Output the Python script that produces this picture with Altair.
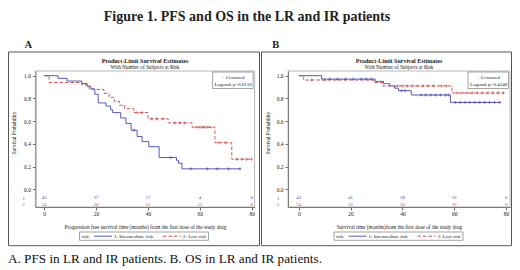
import altair as alt
import pandas as pd

FONT = "Liberation Serif"
BLUE = "#4646b4"
RED = "#c84646"
AXC = "#444444"

# ---------------- data ----------------
risk_times = [0, 20, 40, 60, 80]

# Panel A : PFS
a_ir_t = [0, 5.3, 8.8, 14.5, 16.5, 18, 19.5, 20.8, 23.8, 25.6, 26.4, 29.5, 31.5, 33.5, 35.8, 37.7, 40.3, 44.3, 51, 51.8, 53.1, 75.5]
a_ir_s = [1.0, 0.977, 0.953, 0.93, 0.907, 0.884, 0.837, 0.76, 0.733, 0.70, 0.675, 0.628, 0.58, 0.52, 0.465, 0.42, 0.375, 0.28, 0.255, 0.23, 0.18, 0.18]
a_ir_cens_t = [34.6, 48.8, 56.6, 62.9, 66.7, 71.0, 75.5]
a_ir_cens_s = [0.52, 0.28, 0.18, 0.18, 0.18, 0.18, 0.18]
a_lr_t = [0, 1.9, 14.5, 17.3, 23, 25, 27, 29, 31, 34.5, 40, 47.8, 57, 65.8, 72.3, 80]
a_lr_s = [1.0, 0.94, 0.92, 0.88, 0.845, 0.81, 0.775, 0.74, 0.71, 0.675, 0.62, 0.585, 0.547, 0.41, 0.265, 0.265]
a_lr_cens_t = [35.8, 37.7, 41.5, 43.4, 45.9, 50.3, 52.2, 54.0, 58.5, 60, 61, 62, 63, 64.2, 67.3, 69.8, 74.2, 76.1, 78, 79.9]
a_lr_cens_s = [0.675, 0.675, 0.62, 0.62, 0.62, 0.585, 0.585, 0.585, 0.547, 0.547, 0.547, 0.547, 0.547, 0.547, 0.41, 0.41, 0.265, 0.265, 0.265, 0.265]
a_risk_ir = [43, 37, 17, 4, 0]
a_risk_lr = [34, 30, 21, 13, 0]

# Panel B : OS
b_ir_t = [0, 8.8, 29.5, 32.7, 35, 37, 38.5, 43.4, 58.5, 78]
b_ir_s = [1.0, 0.97, 0.95, 0.93, 0.91, 0.89, 0.868, 0.83, 0.765, 0.765]
b_ir_cens_t = [12, 15, 18, 21, 24, 26, 28, 39.6, 41, 47.2, 49, 51, 52.8, 54.7, 56.6, 57.7, 60.4, 62.3, 64.2, 66, 67.9, 69.8, 71.7, 73.6, 75.5, 77.4]
b_ir_cens_s = [0.97] * 7 + [0.868] * 2 + [0.83] * 7 + [0.765] * 10
b_lr_t = [0, 1.9, 28.9, 32.5, 59.1, 79.2]
b_lr_s = [1.0, 0.962, 0.94, 0.91, 0.848, 0.848]
b_lr_cens_t = [5, 10, 38, 40, 42, 44, 46, 48, 50, 52, 55, 57, 61, 63, 65, 67, 69, 71, 73, 75, 77, 79]
b_lr_cens_s = [0.962] * 2 + [0.91] * 10 + [0.848] * 10
b_risk_ir = [43, 41, 38, 22, 0]
b_risk_lr = [34, 33, 30, 16, 0]

fig_title = "Figure 1. PFS and OS in the LR and IR patients"
caption = "A. PFS in LR and IR patients. B. OS in LR and IR patients."
a_xtitle = "Progression free survival time (months) from the first dose of the study drug"
b_xtitle = "Survival time (months)from the first dose of the study drug"

dummy = pd.DataFrame({"d": [0]})
Y_TOP, Y_BOT = 63, 199
Y_DOM = [-0.1558, 1.0414]


def txt(x, y, s, size=5, color="#222", weight="normal", align="left", baseline="middle", font=FONT):
    return alt.Chart(dummy).mark_text(
        font=font, fontSize=size, fontWeight=weight, align=align, baseline=baseline, color=color
    ).encode(x=alt.value(x), y=alt.value(y), text=alt.value(s))


def box(x1, x2, y1, y2, color="#666", width=0.8):
    return alt.Chart(dummy).mark_rect(fill=None, stroke=color, strokeWidth=width).encode(
        x=alt.value(x1), x2=alt.value(x2), y=alt.value(y1), y2=alt.value(y2))


def hline(x1, x2, y, color, dash=None):
    kw = dict(color=color, strokeWidth=0.9)
    if dash:
        kw["strokeDash"] = dash
    return alt.Chart(dummy).mark_rule(**kw).encode(x=alt.value(x1), x2=alt.value(x2), y=alt.value(y))


def panel(ir_t, ir_s, irc_t, irc_s, lr_t, lr_s, lrc_t, lrc_s, risk_ir, risk_lr,
          xdom, xrng, xtitle, logrank, ox, border):
    cx = (xrng[0] + xrng[1]) / 2
    xs = alt.Scale(domain=xdom, range=xrng, nice=False, zero=False)
    ys = alt.Scale(domain=Y_DOM, range=[Y_BOT, Y_TOP], nice=False, zero=False)
    xaxis = alt.Axis(orient="bottom", offset=Y_BOT - 262, values=risk_times, format="d", title=xtitle,
                     tickSize=3, labelPadding=1.5, labelFontSize=5.5, labelFont=FONT, labelColor="#222",
                     titleFont=FONT, titleFontSize=5.3, titleFontWeight="normal", titleColor="#222",
                     titleX=cx, titleY=19, titleAlign="center", titleBaseline="middle",
                     domainColor=AXC, tickColor=AXC, domainWidth=0.8, tickWidth=0.8, grid=False)
    yaxis = alt.Axis(orient="left", offset=-xrng[0], values=[0, 0.2, 0.4, 0.6, 0.8, 1.0], format=".1f",
                     title="Survival Probability", tickSize=3, labelPadding=2, labelFontSize=5.5,
                     labelFont=FONT, labelColor="#222", titleFont=FONT, titleFontSize=5.3,
                     titleFontWeight="normal", titleColor="#222", titleAngle=270,
                     titleX=-(xrng[0] - ox - 5), titleY=124.5, titleAlign="center", titleBaseline="middle",
                     domainColor=AXC, tickColor=AXC, domainWidth=0.8, tickWidth=0.8, grid=False)
    X = alt.X("t:Q", scale=xs, axis=xaxis)
    Yc = alt.Y("s:Q", scale=ys, axis=yaxis)

    ir = pd.DataFrame({"t": ir_t, "s": ir_s})
    lr = pd.DataFrame({"t": lr_t, "s": lr_s})
    irc = pd.DataFrame({"t": irc_t, "s": irc_s})
    lrc = pd.DataFrame({"t": lrc_t, "s": lrc_s})
    rk = pd.DataFrame({"t": risk_times, "s": [-0.077] * 5, "n1": risk_ir, "n2": risk_lr})
    rk2 = rk.assign(s=[-0.138] * 5)

    plus = "M-1,0L1,0M0,-1L0,1"
    layers = [
        alt.Chart(ir).mark_line(interpolate="step-after", color=BLUE, strokeWidth=0.9).encode(x=X, y=Yc),
        alt.Chart(lr).mark_line(interpolate="step-after", color=RED, strokeWidth=0.9,
                                strokeDash=[3.5, 2]).encode(x=X, y=Yc),
        alt.Chart(irc).mark_point(shape=plus, size=10, color=BLUE, strokeWidth=0.6, filled=False,
                                  opacity=1).encode(x=X, y=Yc),
        alt.Chart(lrc).mark_point(shape=plus, size=10, color=RED, strokeWidth=0.6, filled=False,
                                  opacity=1).encode(x=X, y=Yc),
        alt.Chart(rk).mark_text(font=FONT, fontSize=4.8, color=BLUE).encode(x=X, y=Yc, text=alt.Text("n1:Q", format="d")),
        alt.Chart(rk2).mark_text(font=FONT, fontSize=4.8, color=RED).encode(x=X, y=Yc, text=alt.Text("n2:Q", format="d")),
    ]
    p = alt.layer(*layers)

    deco = [
        box(xrng[0], xrng[1], Y_TOP, Y_BOT, color="#9a9a9a", width=0.7),
        box(border[0], border[1], 44, 237.7, color="#555", width=1),
        txt(ox + 15.7, 190.5, "1", size=4.8, color=BLUE, align="center"),
        txt(ox + 15.7, 197.2, "2", size=4.8, color=RED, align="center"),
        txt(cx, 52.5, "Product-Limit Survival Estimates", size=6, weight="bold", align="center"),
        txt(cx, 59.3, "With Number of Subjects at Risk", size=5.2, align="center"),
        box(xrng[1] - 42, xrng[1] - 1.5, 64, 80.5, color="#666", width=0.6),
        txt(xrng[1] - 21.5, 69, "+ Censored", size=5, align="center"),
        txt(xrng[1] - 21.5, 76, logrank, size=5, align="center"),
        box(ox + 71.5, ox + 200.5, 224, 232.3, color="#666", width=0.6),
        txt(ox + 73.5, 228.2, "risk", size=5),
        hline(ox + 86, ox + 104, 228.2, BLUE),
        txt(ox + 106, 228.2, "1: Intermediate risk", size=5),
        hline(ox + 155, ox + 173, 228.2, RED, dash=[3.5, 2]),
        txt(ox + 175, 228.2, "2: Low risk", size=5),
    ]
    return p, deco


pa, da = panel(a_ir_t, a_ir_s, a_ir_cens_t, a_ir_cens_s, a_lr_t, a_lr_s, a_lr_cens_t, a_lr_cens_s,
               a_risk_ir, a_risk_lr, [-3.4, 81.1], [27.4, 246.6], a_xtitle, "Logrank p=0.0116", 0, (0.5, 251.5))
pb, db = panel(b_ir_t, b_ir_s, b_ir_cens_t, b_ir_cens_s, b_lr_t, b_lr_s, b_lr_cens_t, b_lr_cens_s,
               b_risk_ir, b_risk_lr, [-4.15, 81.5], [280.0, 502.0], b_xtitle, "Logrank p=0.4348", 254.5, (253.5, 503.5))

top = [
    txt(239, 12.5, fig_title, size=14, weight="bold", align="center", baseline="alphabetic"),
    txt(16.6, 40.3, "A", size=10.5, weight="bold", baseline="alphabetic"),
    txt(264.3, 40.3, "B", size=10.5, weight="bold", baseline="alphabetic"),
    txt(0, 255, caption, size=13.2, color="#111", baseline="alphabetic"),
]

chart = alt.layer(pa, pb, *da, *db, *top).resolve_scale(
    x="independent", y="independent"
).resolve_axis(x="independent", y="independent").properties(
    width=504, height=262, autosize=alt.AutoSizeParams(type="none"), padding=0
).configure_view(strokeWidth=0)

chart.save("out.html", embed_options={"renderer": "svg", "actions": False})
